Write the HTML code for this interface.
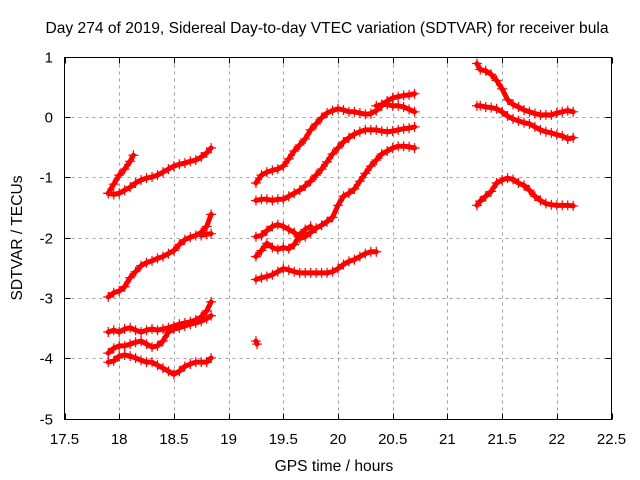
<!DOCTYPE html>
<html><head><meta charset="utf-8"><style>
html,body{margin:0;padding:0;background:#fff;}
svg{display:block;font-family:"Liberation Sans","DejaVu Sans",sans-serif;}
</style></head><body>
<svg id="chart" width="640" height="480" viewBox="0 0 640 480">
<rect x="0" y="0" width="640" height="480" fill="#fff"/>
<text x="327" y="33" font-size="15.6" text-anchor="middle">Day 274 of 2019, Sidereal Day-to-day VTEC variation (SDTVAR) for receiver bula</text>
<text x="334" y="471" font-size="15.6" text-anchor="middle">GPS time / hours</text>
<text transform="translate(22,238) rotate(-90)" font-size="15.6" text-anchor="middle">SDTVAR / TECUs</text>
<g id="grid"></g>
<g id="ticks"></g>
<g id="marks"></g>
<rect x="64.5" y="57.5" width="547" height="362" fill="none" stroke="#000" stroke-width="1"/>
</svg>
<script>
const xTicks=[17.5,18,18.5,19,19.5,20,20.5,21,21.5,22,22.5];
const xTickLabels=["17.5","18","18.5","19","19.5","20","20.5","21","21.5","22","22.5"];
const yTicks=[1,0,-1,-2,-3,-4,-5];
const yTickLabels=["1","0","-1","-2","-3","-4","-5"];
const trackA1=[[17.9,-1.25],[17.95,-1.1],[18.0,-0.95],[18.05,-0.85],[18.1,-0.72],[18.13,-0.62]];
const trackA2=[[17.9,-1.25],[17.95,-1.27],[18.0,-1.25],[18.05,-1.2],[18.1,-1.15],[18.15,-1.08],[18.2,-1.03],[18.25,-1.0],[18.3,-0.98],[18.35,-0.95],[18.4,-0.9],[18.45,-0.85],[18.5,-0.8],[18.55,-0.77],[18.6,-0.75],[18.65,-0.72],[18.7,-0.7],[18.75,-0.65],[18.8,-0.58],[18.84,-0.5]];
const trackA3=[[17.9,-2.97],[17.95,-2.9],[18.0,-2.87],[18.05,-2.8],[18.1,-2.65],[18.15,-2.55],[18.2,-2.45],[18.25,-2.4],[18.3,-2.37],[18.35,-2.33],[18.4,-2.3],[18.45,-2.25],[18.5,-2.2],[18.55,-2.1],[18.6,-2.02],[18.65,-1.98],[18.7,-1.95],[18.75,-1.9],[18.8,-1.8],[18.84,-1.6]];
const trackA3b=[[18.75,-1.95],[18.8,-1.93],[18.84,-1.92]];
const trackA4=[[17.9,-3.55],[17.95,-3.52],[18.0,-3.55],[18.05,-3.5],[18.1,-3.48],[18.15,-3.52],[18.2,-3.55],[18.25,-3.52],[18.3,-3.5],[18.35,-3.52],[18.4,-3.5],[18.45,-3.48],[18.5,-3.45],[18.55,-3.42],[18.6,-3.4],[18.65,-3.38],[18.7,-3.35],[18.75,-3.3],[18.8,-3.2],[18.84,-3.05]];
const trackA5=[[17.9,-3.9],[17.95,-3.82],[18.0,-3.78],[18.05,-3.78],[18.1,-3.75],[18.15,-3.72],[18.2,-3.7],[18.25,-3.75],[18.3,-3.8],[18.35,-3.78],[18.4,-3.7],[18.45,-3.55],[18.5,-3.5],[18.55,-3.48],[18.6,-3.45],[18.65,-3.42],[18.7,-3.4],[18.75,-3.37],[18.8,-3.33],[18.84,-3.28]];
const trackA6=[[17.9,-4.05],[17.95,-4.03],[18.0,-3.95],[18.05,-3.93],[18.1,-3.95],[18.15,-3.98],[18.2,-4.02],[18.25,-4.05],[18.3,-4.05],[18.35,-4.1],[18.4,-4.15],[18.45,-4.2],[18.5,-4.25],[18.55,-4.2],[18.6,-4.12],[18.65,-4.08],[18.7,-4.05],[18.75,-4.05],[18.8,-4.05],[18.84,-3.98]];
const trackIso=[[19.25,-3.7],[19.26,-3.75]];
const trackB1=[[19.25,-1.08],[19.3,-0.95],[19.35,-0.9],[19.4,-0.87],[19.45,-0.85],[19.5,-0.8],[19.55,-0.68],[19.6,-0.55],[19.65,-0.45],[19.7,-0.35],[19.75,-0.2],[19.8,-0.1],[19.85,0.0],[19.9,0.08],[19.95,0.12],[20.0,0.15],[20.05,0.13],[20.1,0.1],[20.15,0.1],[20.2,0.08],[20.25,0.06],[20.3,0.07],[20.35,0.12],[20.4,0.2],[20.45,0.28],[20.5,0.33],[20.55,0.35],[20.6,0.37],[20.65,0.38],[20.7,0.4]];
const trackB1b=[[20.35,0.2],[20.4,0.22],[20.45,0.22],[20.5,0.2],[20.55,0.2],[20.6,0.18],[20.65,0.14],[20.7,0.1]];
const trackB2=[[19.25,-1.37],[19.3,-1.35],[19.35,-1.35],[19.4,-1.37],[19.45,-1.35],[19.5,-1.35],[19.55,-1.3],[19.6,-1.25],[19.65,-1.2],[19.7,-1.13],[19.75,-1.05],[19.8,-0.95],[19.85,-0.85],[19.9,-0.73],[19.95,-0.6],[20.0,-0.5],[20.05,-0.4],[20.1,-0.33],[20.15,-0.27],[20.2,-0.23],[20.25,-0.2],[20.3,-0.2],[20.35,-0.2],[20.4,-0.22],[20.45,-0.23],[20.5,-0.22],[20.55,-0.2],[20.6,-0.18],[20.65,-0.17],[20.7,-0.15]];
const trackB3=[[19.25,-1.97],[19.3,-1.95],[19.35,-1.87],[19.4,-1.8],[19.45,-1.77],[19.5,-1.8],[19.55,-1.85],[19.6,-1.9],[19.65,-2.0],[19.7,-1.97],[19.75,-1.9],[19.8,-1.83],[19.85,-1.78],[19.9,-1.72],[19.95,-1.65],[20.0,-1.45],[20.05,-1.3],[20.1,-1.25],[20.15,-1.18],[20.2,-1.05],[20.25,-0.92],[20.3,-0.8],[20.35,-0.7],[20.4,-0.6],[20.45,-0.55],[20.5,-0.5],[20.55,-0.47],[20.6,-0.47],[20.65,-0.48],[20.7,-0.5]];
const trackB4=[[19.25,-2.3],[19.3,-2.2],[19.35,-2.08],[19.4,-2.15],[19.45,-2.18],[19.5,-2.15],[19.55,-2.17],[19.6,-2.1],[19.65,-1.95],[19.7,-1.85],[19.75,-1.8]];
const trackB5=[[19.25,-2.68],[19.3,-2.65],[19.35,-2.63],[19.4,-2.6],[19.45,-2.55],[19.5,-2.5],[19.55,-2.52],[19.6,-2.55],[19.65,-2.57],[19.7,-2.57],[19.75,-2.57],[19.8,-2.57],[19.85,-2.57],[19.9,-2.57],[19.95,-2.55],[20.0,-2.5],[20.05,-2.43],[20.1,-2.38],[20.15,-2.35],[20.2,-2.3],[20.25,-2.25],[20.3,-2.22],[20.35,-2.22]];
const trackC1=[[21.27,0.9],[21.3,0.8],[21.35,0.78],[21.4,0.72],[21.45,0.62],[21.5,0.48],[21.55,0.3],[21.6,0.22],[21.65,0.18],[21.7,0.13],[21.75,0.1],[21.8,0.07],[21.85,0.05],[21.9,0.05],[21.95,0.05],[22.0,0.08],[22.05,0.1],[22.1,0.12],[22.15,0.1]];
const trackC2=[[21.27,0.2],[21.3,0.2],[21.35,0.18],[21.4,0.17],[21.45,0.15],[21.5,0.1],[21.55,0.03],[21.6,-0.02],[21.65,-0.05],[21.7,-0.08],[21.75,-0.1],[21.8,-0.15],[21.85,-0.2],[21.9,-0.23],[21.95,-0.25],[22.0,-0.28],[22.05,-0.3],[22.1,-0.35],[22.15,-0.33]];
const trackC3=[[21.27,-1.45],[21.3,-1.38],[21.35,-1.3],[21.4,-1.22],[21.45,-1.08],[21.5,-1.03],[21.55,-1.0],[21.6,-1.02],[21.65,-1.08],[21.7,-1.12],[21.75,-1.2],[21.8,-1.3],[21.85,-1.37],[21.9,-1.42],[21.95,-1.44],[22.0,-1.45],[22.05,-1.45],[22.1,-1.45],[22.15,-1.46]];
const tracks=[trackA1,trackA2,trackA3,trackA3b,trackA4,trackA5,trackA6,trackIso,trackB1,trackB1b,trackB2,trackB3,trackB4,trackB5,trackC1,trackC2,trackC3];

const X0=64.5,X1=611.5,Y0=57.5,Y1=419.5;
const xMin=17.5,xMax=22.5,yMin=-5,yMax=1;
function xs(t){return X0+(t-xMin)/(xMax-xMin)*(X1-X0);}
function ys(v){return Y1-(v-yMin)/(yMax-yMin)*(Y1-Y0);}
const NS="http://www.w3.org/2000/svg";
function mk(tag,attrs,parent){const e=document.createElementNS(NS,tag);for(const k in attrs)e.setAttribute(k,attrs[k]);parent.appendChild(e);return e;}
const grid=document.getElementById('grid'),ticks=document.getElementById('ticks'),marks=document.getElementById('marks');
xTicks.forEach((t,i)=>{
  const x=Math.round(xs(t))+0.5;
  if(i>0&&i<xTicks.length-1){
    const g=mk('line',{x1:x,x2:x,y1:Y0,y2:Y1,stroke:'#a0a0a0','stroke-dasharray':'3,4','stroke-width':1},grid);
    
    
  }
  mk('line',{x1:x,x2:x,y1:Y1,y2:Y1-6,stroke:'#000'},ticks);
  mk('line',{x1:x,x2:x,y1:Y0,y2:Y0+6,stroke:'#000'},ticks);
  const tx=mk('text',{x:xs(t),y:444,'font-size':15,'text-anchor':'middle'},ticks);
  tx.textContent=xTickLabels[i];
  
  
});
yTicks.forEach((v,i)=>{
  const y=Math.round(ys(v))-0.5;
  if(i>0&&i<yTicks.length-1){
    const g=mk('line',{x1:X0,x2:X1,y1:y,y2:y,stroke:'#a0a0a0','stroke-dasharray':'3,4','stroke-width':1},grid);
    
    
  }
  mk('line',{x1:X0,x2:X0+6,y1:y,y2:y,stroke:'#000'},ticks);
  mk('line',{x1:X1,x2:X1-6,y1:y,y2:y,stroke:'#000'},ticks);
  const tx=mk('text',{x:53,y:y+5,'font-size':15,'text-anchor':'end'},ticks);
  tx.textContent=yTickLabels[i];
  
  
});
tracks.forEach(tr=>{
  const pl=mk('polyline',{points:tr.map(p=>xs(p[0])+','+ys(p[1])).join(' '),fill:'none',stroke:'#ff0000','stroke-width':5,'stroke-linejoin':'round','stroke-linecap':'round'},marks);
  
  
  tr.forEach(p=>{
    const x=xs(p[0]),y=ys(p[1]);
    const m=mk('path',{d:`M${x-5},${y}H${x+5}M${x},${y-5}V${y+5}`,stroke:'#ff0000','stroke-width':1.2,fill:'none'},marks);
    
    
  });
});
</script>
</body></html>
